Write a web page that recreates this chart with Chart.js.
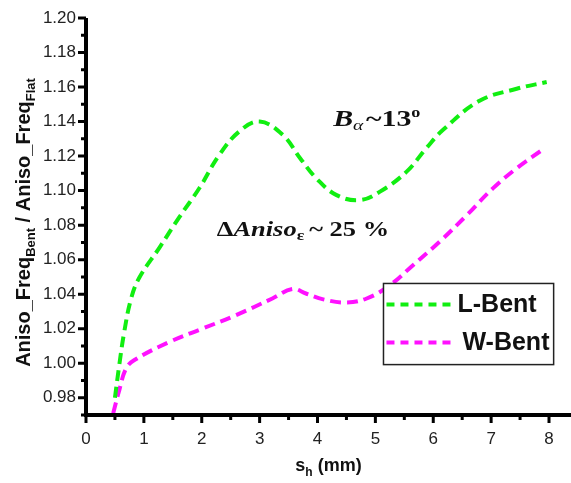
<!DOCTYPE html>
<html>
<head>
<meta charset="utf-8">
<script src="https://cdn.jsdelivr.net/npm/chart.js@4/dist/chart.umd.min.js"></script>
<style>
  html, body { margin: 0; padding: 0; background: #fff; }
  #wrap { width: 571px; height: 483px; position: relative; }
</style>
</head>
<body>
<div id="wrap"><canvas id="c" width="571" height="483"></canvas></div>
<script>
// ---- data ----
const seriesLabels = ['L-Bent', 'W-Bent'];
const lBentX = [0.50, 0.575, 0.66, 0.78, 0.92, 1.27, 1.61, 1.96, 2.30, 2.65, 3.00, 3.40, 3.70, 3.98, 4.33, 4.73, 5.08, 5.54, 5.88, 6.17, 6.80, 7.44, 7.96];
const lBentY = [0.980, 0.999, 1.018, 1.0375, 1.0495, 1.067, 1.0845, 1.1015, 1.1205, 1.1343, 1.140, 1.1323, 1.1188, 1.1071, 1.0974, 1.0945, 1.0994, 1.111, 1.1246, 1.1352, 1.152, 1.159, 1.1629];
const wBentX = [0.47, 0.58, 0.69, 0.83, 1.44, 2.01, 2.59, 3.22, 3.57, 3.80, 4.10, 4.50, 4.85, 5.25, 5.65, 6.11, 6.58, 7.03, 7.44, 7.90];
const wBentY = [0.971, 0.985, 0.9968, 1.0017, 1.0123, 1.020, 1.0278, 1.0375, 1.043, 1.0404, 1.037, 1.0352, 1.0375, 1.0452, 1.0568, 1.0704, 1.0858, 1.1013, 1.1129, 1.124];
const xTickLabels = ['0', '1', '2', '3', '4', '5', '6', '7', '8'];
const yTickLabels = ['0.98', '1.00', '1.02', '1.04', '1.06', '1.08', '1.10', '1.12', '1.14', '1.16', '1.18', '1.20'];
const xAxisTitle = ['s', 'h', ' (mm)'];
const yAxisTitle = ['Aniso_Freq', 'Bent', ' / Aniso_Freq', 'Flat'];
const noteB = { x: 4.27, y: 1.1373 };
const noteD = { x: 2.26, y: 1.0735 };

const colors = ['#11ee11', '#ff11ff'];
const toPts = (xs, ys) => xs.map((x, i) => ({ x: x, y: ys[i] }));

const customDraw = {
  id: 'customDraw',
  afterDatasetsDraw(chart) {
    const ctx = chart.ctx;
    const ca = chart.chartArea;
    const xs = chart.scales.x, ys = chart.scales.y;
    ctx.save();
    // axes lines
    ctx.strokeStyle = '#000';
    ctx.lineWidth = 4;
    ctx.beginPath();
    ctx.moveTo(ca.left, ca.top);
    ctx.lineTo(ca.left, ca.bottom + 2);
    ctx.moveTo(ca.left - 2, ca.bottom);
    ctx.lineTo(ca.right, ca.bottom);
    ctx.stroke();
    // ticks
    ctx.lineWidth = 3;
    ctx.beginPath();
    xs.ticks.forEach(t => {
      const px = xs.getPixelForValue(t.value);
      const major = Math.abs(t.value - Math.round(t.value)) < 1e-6;
      ctx.moveTo(px, ca.bottom);
      ctx.lineTo(px, ca.bottom + (major ? 8 : 5));
    });
    ys.ticks.forEach(t => {
      const py = ys.getPixelForValue(t.value);
      const major = Math.round(t.value * 100) % 2 === 0;
      ctx.moveTo(ca.left, py);
      ctx.lineTo(ca.left - (major ? 8 : 5), py);
    });
    ctx.stroke();

    // x axis title with subscript
    ctx.fillStyle = '#111';
    ctx.textBaseline = 'alphabetic';
    const bigX = 'bold 18px "Liberation Sans", Arial, sans-serif';
    const subX = 'bold 12px "Liberation Sans", Arial, sans-serif';
    ctx.font = bigX; const w1 = ctx.measureText(xAxisTitle[0]).width;
    ctx.font = subX; const w2 = ctx.measureText(xAxisTitle[1]).width;
    ctx.font = bigX; const w3 = ctx.measureText(xAxisTitle[2]).width;
    let sx = (ca.left + ca.right) / 2 - (w1 + w2 + w3) / 2;
    const by = 471;
    ctx.font = bigX; ctx.fillText(xAxisTitle[0], sx, by); sx += w1;
    ctx.font = subX; ctx.fillText(xAxisTitle[1], sx, by + 5); sx += w2;
    ctx.font = bigX; ctx.fillText(xAxisTitle[2], sx, by);

    // y axis title with subscripts (rotated)
    const bigY = 'bold 20px "Liberation Sans", Arial, sans-serif';
    const subY = 'bold 13px "Liberation Sans", Arial, sans-serif';
    const fonts = [bigY, subY, bigY, subY];
    const widths = yAxisTitle.map((s, i) => { ctx.font = fonts[i]; return ctx.measureText(s).width; });
    const total = widths.reduce((a, b) => a + b, 0);
    ctx.save();
    ctx.translate(30, (ca.top + ca.bottom) / 2 + 6);
    ctx.rotate(-Math.PI / 2);
    let yx = -total / 2;
    yAxisTitle.forEach((s, i) => {
      ctx.font = fonts[i];
      ctx.fillText(s, yx, i % 2 === 1 ? 5 : 0);
      yx += widths[i];
    });
    ctx.restore();

    // annotations (stretched serif text)
    function drawRuns(runs, px, py, stretch) {
      ctx.save();
      ctx.translate(px, py);
      ctx.scale(stretch, 1);
      let cx = 0;
      runs.forEach(r => {
        ctx.font = r.font;
        ctx.fillText(r.t, cx, r.dy || 0);
        cx += ctx.measureText(r.t).width + (r.gap || 0);
      });
      ctx.restore();
    }
    ctx.fillStyle = '#111';
    const serif = '"Liberation Serif", "Times New Roman", serif';
    drawRuns([
      { t: 'B', font: 'italic bold 23px ' + serif },
      { t: 'α', font: 'italic 15px ' + serif, dy: 4, gap: 2 },
      { t: '~13', font: 'bold 23px ' + serif },
      { t: 'o', font: 'bold 14px ' + serif, dy: -9 }
    ], xs.getPixelForValue(noteB.x), ys.getPixelForValue(noteB.y), 1.3);
    drawRuns([
      { t: 'Δ', font: 'bold 21px ' + serif },
      { t: 'Aniso', font: 'italic bold 21px ' + serif },
      { t: 'ε', font: 'bold 14px ' + serif, dy: 4, gap: 4 },
      { t: '~ 25 %', font: 'bold 21px ' + serif }
    ], xs.getPixelForValue(noteD.x), ys.getPixelForValue(noteD.y), 1.26);

    // legend box
    const lx0 = xs.getPixelForValue(5.14), lx1 = xs.getPixelForValue(8.08);
    const ly0 = ys.getPixelForValue(1.0462), ly1 = ys.getPixelForValue(0.9992);
    ctx.strokeStyle = '#222';
    ctx.lineWidth = 1.5;
    ctx.fillStyle = '#fff';
    ctx.fillRect(lx0, ly0, lx1 - lx0, ly1 - ly0);
    ctx.strokeRect(lx0, ly0, lx1 - lx0, ly1 - ly0);
    const rowY = [ly0 + 21, ly0 + 59];
    const textX = [lx0 + 74, lx0 + 79];
    chart.data.datasets.forEach((ds, i) => {
      ctx.save();
      ctx.strokeStyle = ds.borderColor;
      ctx.lineWidth = 4;
      ctx.setLineDash([8, 6]);
      ctx.beginPath();
      ctx.moveTo(lx0 + 3, rowY[i]);
      ctx.lineTo(lx0 + 67, rowY[i]);
      ctx.stroke();
      ctx.restore();
      ctx.fillStyle = '#111';
      ctx.font = 'bold 25px "Liberation Sans", Arial, sans-serif';
      ctx.textBaseline = 'middle';
      ctx.fillText(ds.label, textX[i], rowY[i] + 1);
    });
    ctx.restore();
  }
};

new Chart(document.getElementById('c'), {
  type: 'line',
  data: {
    datasets: [
      { label: seriesLabels[0], data: toPts(lBentX, lBentY), borderColor: colors[0], backgroundColor: colors[0],
        borderWidth: 4, borderDash: [11, 6], pointRadius: 0, tension: 0.4, fill: false },
      { label: seriesLabels[1], data: toPts(wBentX, wBentY), borderColor: colors[1], backgroundColor: colors[1],
        borderWidth: 4, borderDash: [11, 6], pointRadius: 0, tension: 0.4, fill: false }
    ]
  },
  options: {
    responsive: false,
    animation: false,
    devicePixelRatio: 1,
    layout: { padding: { top: 18, right: 0, left: 0, bottom: 0 } },
    plugins: { legend: { display: false }, tooltip: { enabled: false } },
    scales: {
      x: {
        type: 'linear', min: 0, max: 8.38,
        afterFit: s => { s.height = 68; },
        border: { display: false },
        grid: { drawOnChartArea: false, drawTicks: true, tickLength: 8, color: 'rgba(0,0,0,0)' },
        ticks: {
          stepSize: 0.5, includeBounds: false, autoSkip: false, maxRotation: 0, padding: 6,
          color: '#222', font: { family: '"Liberation Sans", Arial, sans-serif', size: 17 },
          callback: v => {
            const i = xTickLabels.indexOf(String(v));
            return i >= 0 ? xTickLabels[i] : '';
          }
        }
      },
      y: {
        type: 'linear', min: 0.97, max: 1.2,
        afterFit: s => { s.width = 86; },
        border: { display: false },
        grid: { drawOnChartArea: false, drawTicks: true, tickLength: 7, color: 'rgba(0,0,0,0)' },
        ticks: {
          stepSize: 0.01, autoSkip: false, padding: 3,
          color: '#222', font: { family: '"Liberation Sans", Arial, sans-serif', size: 17 },
          callback: v => {
            const s = Number(v).toFixed(2);
            return yTickLabels.indexOf(s) >= 0 ? s : '';
          }
        }
      }
    }
  },
  plugins: [customDraw]
});
</script>
</body>
</html>
